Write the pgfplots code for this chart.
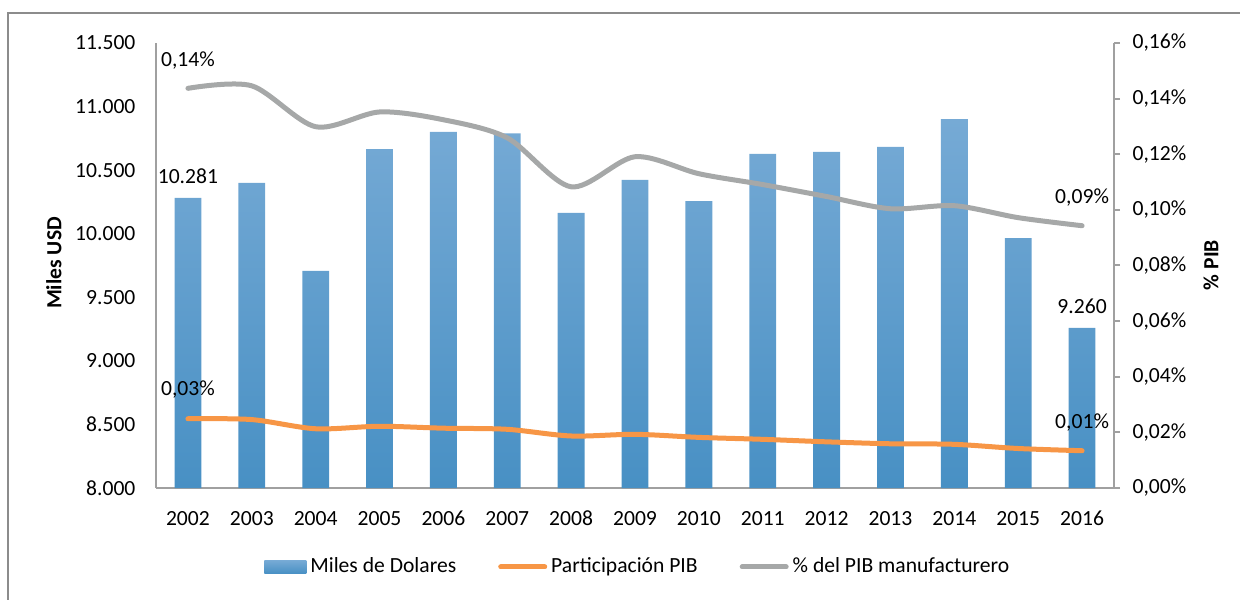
\documentclass[border=0pt]{standalone}
\usepackage{pgfplots}
\pgfplotsset{compat=1.18}
\usepackage{fontspec}
\setmainfont{Carlito}
\definecolor{barTop}{RGB}{118,170,213}
\definecolor{barBot}{RGB}{72,144,196}
\definecolor{orangeL}{RGB}{247,150,70}
\definecolor{grayL}{RGB}{166,168,168}
\definecolor{axgray}{RGB}{160,160,160}
\definecolor{framegray}{RGB}{140,140,140}
\newcommand{\chartfont}{\fontsize{10.8pt}{13pt}\selectfont}
\pgfplotstableread{
x val
0 10281
1 10399
2 9707
3 10666
4 10800
5 10790
6 10163
7 10423
8 10257
9 10627
10 10643
11 10682
12 10902
13 9966
14 9260
}\bars
\pgfplotstableread{
x part manu
0 0.0249 0.1437
1 0.0246 0.1446
2 0.0213 0.1299
3 0.0222 0.1352
4 0.0215 0.1324
5 0.0211 0.1259
6 0.0187 0.1083
7 0.0193 0.1191
8 0.0182 0.1130
9 0.0175 0.1091
10 0.0166 0.1048
11 0.0159 0.1004
12 0.0157 0.1015
13 0.0142 0.0972
14 0.0134 0.0943
}\lines
\begin{document}
\chartfont
\begin{tikzpicture}
\useasboundingbox (0pt,0pt) rectangle (620pt,299.5pt);
\draw[framegray, line width=1pt] (4pt,-5pt) -- (4pt,293pt) -- (630pt,293pt);
\begin{axis}[
  at={(78pt,55.5pt)}, anchor=south west,
  scale only axis, width=479pt, height=222.5pt,
  xmin=-0.5, xmax=14.5, ymin=8000, ymax=11500,
  ytick={8000,8500,9000,9500,10000,10500,11000,11500},
  scaled y ticks=false,
  yticklabel={\pgfmathprintnumber[1000 sep={.},assume math mode=true]{\tick}},
  xtick={0,...,14},
  xticklabels={2002,2003,2004,2005,2006,2007,2008,2009,2010,2011,2012,2013,2014,2015,2016},
  axis x line*=bottom, axis y line*=left,
  axis line style={-, axgray, line width=1pt},
  major tick length=0pt,
  tick style={draw=none},
  tick label style={font=\chartfont},
  yticklabel style={xshift=-6.5pt},
  xticklabel style={yshift=-8pt, text height=6.8pt, text depth=0pt},
  ylabel={\bfseries Miles USD},
  ylabel style={at={(axis description cs:-0.1065,0.5056)}, anchor=center, font=\chartfont},
  /pgf/number format/assume math mode=true,
  clip=false,
]
\addplot[ybar, bar width=0.42, draw=none, top color=barTop, bottom color=barBot] table[x=x,y=val] {\bars};
\node[font=\chartfont, anchor=center, yshift=11pt] at (axis cs:0,10281) {10.281};
\node[font=\chartfont, anchor=center, yshift=11pt] at (axis cs:14,9260) {9.260};
\end{axis}
\begin{axis}[
  at={(78pt,55.5pt)}, anchor=south west,
  scale only axis, width=479pt, height=222.5pt,
  xmin=-0.5, xmax=14.5, ymin=0, ymax=0.16,
  ytick={0,0.02,0.04,0.06,0.08,0.10,0.12,0.14,0.16},
  yticklabel={\pgfmathprintnumber[fixed,fixed zerofill,precision=2,use comma,assume math mode=true]{\tick}\%},
  axis x line=none, axis y line*=right,
  axis line style={-, axgray, line width=1pt},
  tick align=outside, major tick length=3pt,
  ytick style={axgray, line width=1pt},
  tick label style={font=\chartfont},
  yticklabel style={xshift=2.5pt},
  ylabel={\bfseries \% PIB},
  ylabel style={at={(axis description cs:1.1013,0.501)}, anchor=center, rotate=0, font=\chartfont},
  clip=false,
  legend style={at={(axis description cs:0.504,-0.1775)}, anchor=center, legend columns=3, draw=none, fill=none, font=\chartfont,
    /tikz/every even column/.append style={column sep=19pt},
    /tikz/every odd column/.append style={column sep=0pt}},
]
\addlegendimage{legend image code/.code={\path[draw=none, top color=barTop, bottom color=barBot] (0pt,-3.25pt) rectangle (21pt,3.25pt);}}
\addplot[orangeL, line width=2.5pt, smooth, line cap=round,
  legend image code/.code={\draw[orangeL, line width=2.5pt, line cap=round] (0pt,0pt) -- (22pt,0pt);}] table[x=x,y=part] {\lines};
\addplot[grayL, line width=2.5pt, smooth, line cap=round,
  legend image code/.code={\draw[grayL, line width=2.5pt, line cap=round] (0pt,0pt) -- (22pt,0pt);}] table[x=x,y=manu] {\lines};
\legend{Miles de Dolares, Participación PIB, \% del PIB manufacturero}
\node[font=\chartfont, anchor=center, yshift=14pt] at (axis cs:0,0.1437) {0,14\%};
\node[font=\chartfont, anchor=center, yshift=14pt] at (axis cs:14,0.0943) {0,09\%};
\node[font=\chartfont, anchor=center, yshift=14.5pt] at (axis cs:0,0.0249) {0,03\%};
\node[font=\chartfont, anchor=center, yshift=14pt] at (axis cs:14,0.0134) {0,01\%};
\end{axis}
\end{tikzpicture}
\end{document}
